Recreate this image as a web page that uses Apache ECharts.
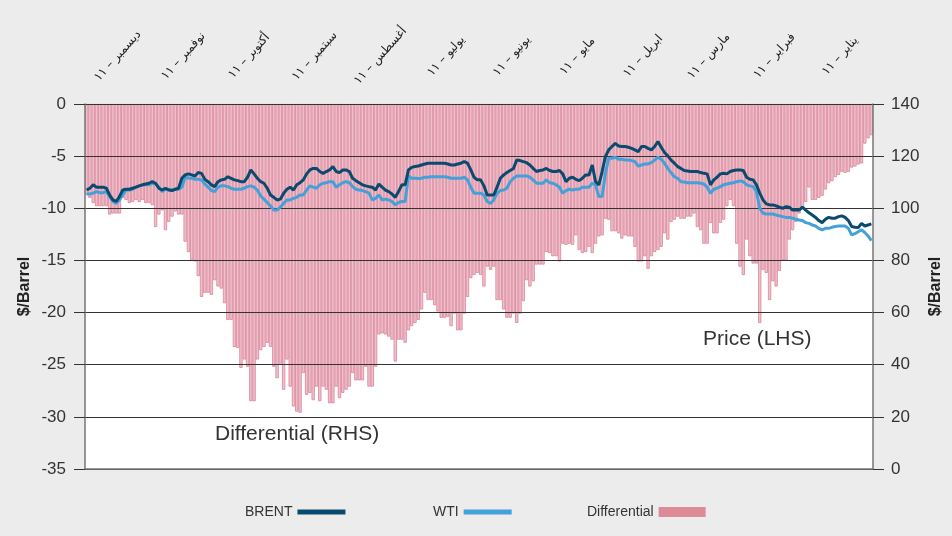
<!DOCTYPE html>
<html>
<head>
<meta charset="utf-8">
<script src="https://cdn.jsdelivr.net/npm/echarts@6/dist/echarts.min.js"></script>
<style>
  html, body { margin: 0; padding: 0; background: #ececec; }
  #chart { width: 952px; height: 536px; }
</style>
</head>
<body>
<div id="chart"></div>
<script>
// months in time order, axis is reversed so January sits on the right
var months = ['يناير – ١١', 'فبراير – ١١', 'مارس – ١١', 'ابريل – ١١', 'مايو – ١١', 'يونيو – ١١',
  'يوليو – ١١', 'أغسطس – ١١', 'سبتمبر – ١١', 'أكتوبر – ١١', 'نوفمبر – ١١', 'ديسمبر – ١١']
var daysPerMonth = 20

// Brent - WTI differential, $/bbl (one line per month, Jan..Dec)
var differential = [
  -3.0, -3.3, -3.8, -5.7, -5.8, -6.0, -6.1, -6.5, -6.6, -6.5, -6.8, -7.0, -7.4, -7.6, -8.2, -8.8, -9.0, -9.2, -9.2, -8.0,
  -9.4, -9.9, -10.5, -11.3, -12.1, -13.0, -15.0, -15.0, -16.0, -17.5, -17.0, -18.8, -16.2, -15.9, -21.0, -15.3, -15.3, -14.6, -13.0, -16.4,
  -15.6, -13.4, -9.8, -9.2, -9.8, -11.1, -11.4, -12.4, -12.4, -11.4, -13.4, -13.4, -12.1, -11.8, -10.5, -10.8, -10.8, -11.0, -11.0, -10.8,
  -11.1, -11.3, -13.0, -12.4, -13.7, -14.0, -14.2, -14.6, -15.8, -14.6, -15.1, -15.1, -13.7, -12.7, -12.7, -12.6, -12.9, -12.4, -12.2, -12.2,
  -11.1, -11.0, -12.6, -12.7, -13.4, -14.3, -13.7, -14.2, -14.3, -14.0, -12.6, -13.5, -13.4, -13.5, -13.4, -15.1, -14.6, -14.6, -14.3, -14.2,
  -15.4, -15.4, -15.4, -17.0, -17.5, -16.9, -18.9, -20.1, -21.0, -20.1, -20.5, -20.5, -19.7, -18.8, -18.8, -15.6, -15.9, -15.6, -17.5, -16.4,
  -16.2, -16.4, -16.7, -18.5, -20.1, -21.7, -21.7, -20.1, -21.3, -20.4, -20.5, -20.5, -19.9, -19.3, -18.8, -18.8, -18.1, -19.7, -20.7, -21.0,
  -21.3, -21.7, -22.9, -22.6, -22.6, -24.7, -22.6, -22.3, -22.1, -22.0, -22.1, -25.2, -27.1, -27.1, -25.2, -26.5, -26.5, -26.5, -25.8, -27.1,
  -27.4, -27.7, -28.2, -27.1, -28.7, -28.7, -27.4, -27.1, -28.5, -27.1, -28.4, -27.7, -27.9, -25.8, -29.6, -29.5, -29.0, -27.1, -24.5, -27.4,
  -24.9, -26.3, -25.2, -23.3, -22.9, -23.3, -23.6, -24.5, -28.5, -28.5, -25.2, -24.5, -25.3, -23.4, -23.3, -20.7, -20.7, -19.1, -17.7, -17.5,
  -16.9, -18.3, -18.1, -18.1, -18.5, -16.5, -15.1, -15.0, -14.2, -13.2, -10.6, -10.6, -10.3, -10.8, -11.3, -12.1, -10.2, -10.6, -11.8, -9.7,
  -9.5, -9.5, -9.2, -9.4, -9.2, -9.4, -9.5, -9.2, -9.0, -10.5, -10.5, -10.5, -10.6, -9.8, -9.8, -9.8, -9.8, -9.5, -9.0, -8.7
]

// Brent price, $/bbl
var brent = [
  94.0, 93.6, 93.2, 94.2, 92.6, 92.7, 93.0, 95.3, 96.5, 97.1, 96.8, 96.2, 96.2, 96.5, 95.8, 94.5, 95.3, 96.5, 97.4, 98.3,
  99.3, 100.4, 99.3, 99.3, 99.3, 100.4, 100.6, 100.0, 100.4, 100.9, 101.3, 101.3, 101.7, 103.2, 105.8, 109.0, 110.9, 111.1, 111.9, 114.5,
  114.7, 114.7, 114.5, 114.1, 113.2, 113.4, 113.2, 111.9, 110.9, 109.0, 113.2, 113.4, 113.7, 114.1, 114.1, 114.1, 114.3, 114.5, 115.3, 116.0,
  117.3, 118.5, 120.1, 121.4, 123.4, 125.6, 123.7, 122.4, 123.0, 123.7, 123.7, 121.7, 122.4, 123.0, 123.4, 123.7, 123.7, 123.9, 124.9, 123.7,
  122.4, 119.8, 114.1, 109.0, 110.2, 116.6, 112.8, 112.8, 111.5, 110.6, 111.1, 111.9, 111.5, 110.2, 113.2, 114.5, 114.1, 114.1, 114.5, 115.3,
  114.7, 114.5, 114.1, 115.3, 116.6, 117.5, 117.9, 118.3, 118.5, 115.3, 114.5, 113.7, 112.8, 111.5, 108.1, 105.1, 105.1, 105.1, 108.6, 110.9,
  110.9, 111.9, 114.7, 117.3, 117.9, 117.3, 117.0, 116.6, 116.6, 117.0, 117.3, 117.3, 117.3, 117.3, 117.3, 117.3, 117.0, 116.6, 116.2, 116.0,
  115.7, 114.7, 109.0, 109.0, 106.4, 104.2, 105.5, 106.4, 107.0, 108.1, 109.3, 107.0, 108.1, 108.3, 108.6, 109.0, 109.8, 110.6, 111.5, 114.1,
  114.7, 114.7, 113.7, 114.1, 116.0, 114.7, 114.1, 113.4, 114.1, 115.3, 115.3, 114.7, 113.2, 110.9, 109.8, 109.0, 107.0, 108.1, 107.3, 105.8,
  103.5, 103.2, 104.2, 105.1, 107.7, 109.6, 110.2, 111.5, 113.2, 114.7, 111.9, 110.2, 110.2, 110.6, 110.9, 111.5, 112.1, 111.1, 110.9, 110.2,
  108.3, 109.0, 110.2, 111.1, 113.4, 113.7, 112.4, 112.8, 113.2, 112.8, 111.5, 107.7, 107.3, 106.8, 107.0, 107.7, 107.0, 107.7, 109.6, 110.2,
  109.6, 109.3, 109.0, 108.6, 108.1, 107.7, 107.3, 107.3, 107.0, 104.5, 102.6, 103.2, 105.1, 107.7, 108.1, 108.1, 108.1, 109.0, 107.7, 107.0
]

// WTI price, $/bbl
var wti = [
  87.6, 89.4, 90.7, 91.7, 91.0, 90.3, 89.8, 92.3, 93.2, 93.2, 93.2, 93.0, 92.7, 92.3, 92.3, 91.7, 92.3, 93.2, 93.6, 94.2,
  94.5, 95.3, 95.5, 95.8, 96.2, 96.5, 96.5, 96.8, 97.1, 97.4, 97.8, 97.8, 97.8, 98.1, 100.0, 106.4, 108.3, 108.6, 109.0, 110.2,
  110.5, 110.2, 109.8, 109.6, 109.3, 109.0, 108.3, 107.7, 107.3, 105.8, 108.1, 109.3, 109.6, 109.8, 109.8, 109.8, 109.8, 110.1, 110.2, 111.5,
  112.1, 113.7, 115.3, 117.3, 118.8, 119.6, 118.5, 117.5, 117.0, 117.0, 116.6, 116.2, 117.9, 118.3, 118.5, 118.5, 118.8, 118.8, 119.6, 119.2,
  119.2, 113.4, 104.5, 104.5, 109.0, 109.6, 108.1, 108.1, 108.1, 107.3, 107.3, 107.0, 107.3, 106.8, 105.8, 108.1, 109.0, 109.6, 109.8, 110.9,
  109.6, 109.6, 109.6, 110.9, 111.9, 112.4, 112.4, 112.4, 112.4, 111.5, 110.2, 107.7, 107.0, 106.8, 105.8, 103.2, 101.9, 102.6, 105.1, 105.8,
  105.8, 105.8, 108.1, 110.9, 111.9, 111.5, 111.5, 111.5, 111.5, 111.9, 112.1, 112.1, 112.1, 112.1, 112.1, 111.9, 111.9, 111.5, 111.4, 111.5,
  111.5, 112.4, 102.6, 102.6, 102.2, 101.3, 102.6, 103.2, 103.5, 103.2, 105.1, 103.8, 103.2, 105.8, 106.4, 106.8, 107.0, 107.3, 108.3, 109.8,
  110.2, 109.8, 109.0, 108.1, 110.2, 110.2, 109.8, 109.6, 109.0, 107.7, 108.1, 108.6, 107.0, 105.1, 105.1, 104.2, 103.8, 103.2, 103.2, 101.9,
  100.4, 99.3, 99.3, 100.9, 102.2, 103.5, 104.7, 107.0, 108.1, 108.6, 108.3, 107.7, 107.3, 107.3, 107.3, 107.7, 108.3, 108.6, 108.6, 108.1,
  106.4, 106.8, 108.1, 109.3, 110.9, 111.1, 111.1, 111.5, 111.6, 111.9, 108.1, 107.3, 107.3, 107.0, 107.3, 107.3, 106.4, 108.1, 109.3, 109.6,
  109.0, 109.0, 109.0, 108.6, 108.1, 107.3, 107.0, 107.0, 105.1, 103.2, 101.9, 102.6, 104.5, 106.4, 106.0, 106.0, 106.4, 105.8, 105.5, 105.5
]

var days = []
months.forEach(function (m) {
  for (var d = 1; d <= daysPerMonth; d++) days.push(m + ' #' + d)
})

var font = 'Liberation Sans, Arial, sans-serif'
var chart = echarts.init(document.getElementById('chart'))

chart.setOption({
  backgroundColor: '#ececec',
  animation: false,
  textStyle: { fontFamily: font },
  grid: {
    left: 85, right: 74, top: 104, bottom: 67,
    show: true, backgroundColor: '#ffffff', borderWidth: 0
  },
  legend: [
    { left: 240, top: 500, align: 'right', icon: 'rect', itemWidth: 48, itemHeight: 5,
      textStyle: { fontSize: 14, color: '#333' }, data: ['BRENT'] },
    { left: 428, top: 500, align: 'right', icon: 'rect', itemWidth: 48, itemHeight: 5,
      textStyle: { fontSize: 14, color: '#333' }, data: ['WTI'] },
    { left: 582, top: 500, align: 'right', icon: 'rect', itemWidth: 47, itemHeight: 10,
      textStyle: { fontSize: 14, color: '#333' },
      data: [{ name: 'Differential', itemStyle: { color: '#dd8a99', borderWidth: 0 } }] }
  ],
  xAxis: [
    { // daily axis that carries the series
      type: 'category', data: days, inverse: true, show: false, boundaryGap: true
    },
    { // month ticks along the bottom
      type: 'category', data: months, inverse: true, position: 'bottom', z: 4,
      axisLine: { lineStyle: { color: '#777', width: 1.5 } },
      axisTick: { length: 8, lineStyle: { color: '#555' } },
      axisLabel: { show: false }
    },
    { // month names across the top
      type: 'category', data: months, inverse: true, position: 'top',
      axisLine: { show: false }, axisTick: { show: false },
      axisLabel: {
        rotate: -48, margin: 48, align: 'center', verticalAlign: 'middle',
        fontFamily: 'DejaVu Sans, sans-serif', fontSize: 12, color: '#222'
      }
    }
  ],
  yAxis: [
    {
      type: 'value', min: -35, max: 0, interval: 5, position: 'left', z: 4,
      name: '$/Barrel', nameLocation: 'middle', nameGap: 52, nameRotate: 90,
      nameMoveOverlap: false,
      nameTextStyle: { fontSize: 16, fontWeight: 'bold', color: '#222' },
      axisLine: { show: true, lineStyle: { color: '#777', width: 1.5 } },
      axisTick: { show: true, length: 11, lineStyle: { color: '#333' } },
      axisLabel: { fontSize: 17, color: '#333', margin: 19 },
      splitLine: { lineStyle: { color: '#333', width: 1 } }
    },
    {
      type: 'value', min: 0, max: 140, interval: 20, position: 'right', z: 4,
      name: '$/Barrel', nameLocation: 'middle', nameGap: 55, nameRotate: 90,
      nameMoveOverlap: false,
      nameTextStyle: { fontSize: 16, fontWeight: 'bold', color: '#222' },
      axisLine: { show: true, lineStyle: { color: '#777', width: 1.5 } },
      axisTick: { show: true, length: 11, lineStyle: { color: '#333' } },
      axisLabel: { fontSize: 17, color: '#333', margin: 18 },
      splitLine: { show: false }
    }
  ],
  series: [
    {
      name: 'Differential', type: 'bar', xAxisIndex: 0, yAxisIndex: 0, z: 2,
      data: differential, barCategoryGap: '0%',
      itemStyle: { color: '#efc0ca', borderColor: '#d9849a', borderWidth: 0.8 }
    },
    {
      name: 'WTI', type: 'line', xAxisIndex: 0, yAxisIndex: 1, data: wti, z: 8,
      showSymbol: false, symbol: 'none', color: '#44a0d8',
      lineStyle: { color: '#44a0d8', width: 3 }
    },
    {
      name: 'BRENT', type: 'line', xAxisIndex: 0, yAxisIndex: 1, data: brent, z: 9,
      showSymbol: false, symbol: 'none', color: '#0b4a6f',
      lineStyle: { color: '#0b4a6f', width: 3 }
    }
  ],
  graphic: [
    { type: 'text', left: 703, top: 329,
      style: { text: 'Price (LHS)', fontSize: 21, fill: '#333', fontFamily: font } },
    { type: 'text', left: 215, top: 424,
      style: { text: 'Differential (RHS)', fontSize: 21, fill: '#333', fontFamily: font } }
  ]
})
</script>
</body>
</html>
